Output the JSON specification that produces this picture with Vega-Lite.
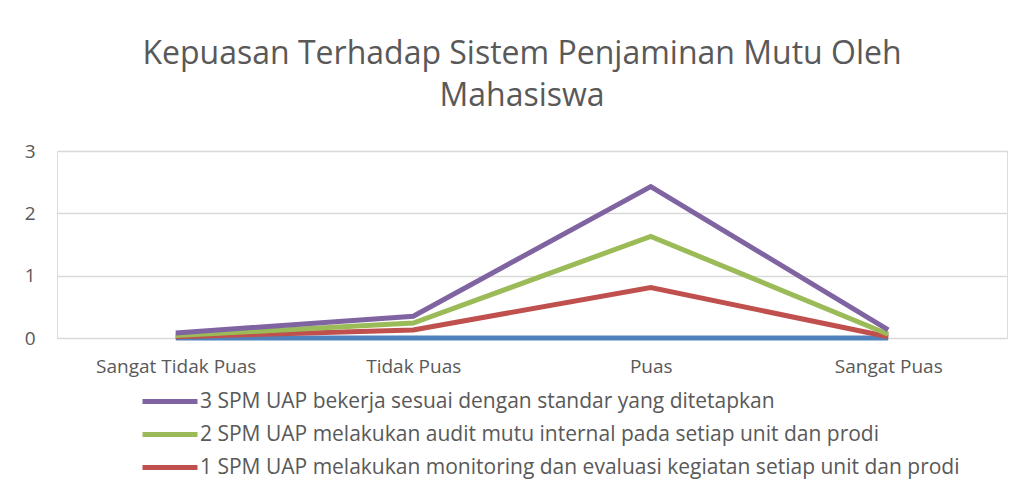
{
  "$schema": "https://vega.github.io/schema/vega-lite/v6.json",
  "width": 950,
  "height": 187,
  "autosize": {"type": "none"},
  "padding": {"left": 57, "top": 151, "right": 23, "bottom": 158},
  "background": "white",
  "title": {
    "text": ["Kepuasan Terhadap Sistem Penjaminan Mutu Oleh", "Mahasiswa"],
    "fontSize": 32,
    "lineHeight": 42,
    "font": "Open Sans",
    "fontWeight": "normal",
    "color": "#595959",
    "anchor": "middle",
    "dx": -10,
    "offset": 29
  },
  "data": {
    "values": [
      {"kategori": "Sangat Tidak Puas", "seri": "0", "nilai": 0},
      {"kategori": "Tidak Puas", "seri": "0", "nilai": 0},
      {"kategori": "Puas", "seri": "0", "nilai": 0},
      {"kategori": "Sangat Puas", "seri": "0", "nilai": 0},
      {"kategori": "Sangat Tidak Puas", "seri": "1 SPM UAP melakukan monitoring dan evaluasi kegiatan setiap unit dan prodi", "nilai": 0.02},
      {"kategori": "Tidak Puas", "seri": "1 SPM UAP melakukan monitoring dan evaluasi kegiatan setiap unit dan prodi", "nilai": 0.13},
      {"kategori": "Puas", "seri": "1 SPM UAP melakukan monitoring dan evaluasi kegiatan setiap unit dan prodi", "nilai": 0.81},
      {"kategori": "Sangat Puas", "seri": "1 SPM UAP melakukan monitoring dan evaluasi kegiatan setiap unit dan prodi", "nilai": 0.02},
      {"kategori": "Sangat Tidak Puas", "seri": "2 SPM UAP melakukan audit mutu internal pada setiap unit dan prodi", "nilai": 0.02},
      {"kategori": "Tidak Puas", "seri": "2 SPM UAP melakukan audit mutu internal pada setiap unit dan prodi", "nilai": 0.11},
      {"kategori": "Puas", "seri": "2 SPM UAP melakukan audit mutu internal pada setiap unit dan prodi", "nilai": 0.82},
      {"kategori": "Sangat Puas", "seri": "2 SPM UAP melakukan audit mutu internal pada setiap unit dan prodi", "nilai": 0.04},
      {"kategori": "Sangat Tidak Puas", "seri": "3 SPM UAP bekerja sesuai dengan standar yang ditetapkan", "nilai": 0.04},
      {"kategori": "Tidak Puas", "seri": "3 SPM UAP bekerja sesuai dengan standar yang ditetapkan", "nilai": 0.11},
      {"kategori": "Puas", "seri": "3 SPM UAP bekerja sesuai dengan standar yang ditetapkan", "nilai": 0.8},
      {"kategori": "Sangat Puas", "seri": "3 SPM UAP bekerja sesuai dengan standar yang ditetapkan", "nilai": 0.07}
    ]
  },
  "encoding": {
    "x": {
      "field": "kategori",
      "type": "nominal",
      "sort": ["Sangat Tidak Puas", "Tidak Puas", "Puas", "Sangat Puas"],
      "scale": {"type": "point", "padding": 0.5},
      "axis": {
        "title": null,
        "labelAngle": 0,
        "domain": false,
        "ticks": false,
        "labelFont": "Open Sans",
        "labelFontSize": 19,
        "labelColor": "#595959",
        "labelPadding": 19
      }
    }
  },
  "layer": [
    {
      "transform": [{"filter": "datum.seri === '0'"}],
      "mark": {"type": "line", "strokeWidth": 5, "color": "#4f81bd"},
      "encoding": {
        "y": {
          "field": "nilai",
          "type": "quantitative",
          "scale": {"domain": [0, 3]},
          "axis": {
            "title": null,
            "values": [0, 1, 2, 3],
            "format": "d",
            "domain": false,
            "ticks": false,
            "gridColor": "#d9d9d9",
            "gridWidth": 1.5,
            "labelFont": "Open Sans",
            "labelFontSize": 19,
            "labelColor": "#595959",
            "labelPadding": 22
          }
        }
      }
    },
    {
      "transform": [{"filter": "datum.seri !== '0'"}],
      "mark": {"type": "line", "strokeWidth": 5},
      "encoding": {
        "y": {"field": "nilai", "type": "quantitative", "stack": "zero"},
        "order": {"field": "seri", "sort": "ascending"},
        "color": {
          "field": "seri",
          "type": "nominal",
          "scale": {
            "domain": [
              "3 SPM UAP bekerja sesuai dengan standar yang ditetapkan",
              "2 SPM UAP melakukan audit mutu internal pada setiap unit dan prodi",
              "1 SPM UAP melakukan monitoring dan evaluasi kegiatan setiap unit dan prodi"
            ],
            "range": ["#8064a2", "#9bbb59", "#c0504d"]
          },
          "legend": {
            "title": null,
            "orient": "none",
            "legendX": 83,
            "legendY": 235,
            "symbolType": "stroke",
            "symbolSize": 3025,
            "symbolStrokeWidth": 5,
            "clipHeight": 31,
            "labelFont": "Open Sans",
            "labelFontSize": 21,
            "labelColor": "#595959",
            "labelLimit": 1000,
            "labelOffset": 0,
            "rowPadding": 2
          }
        }
      }
    }
  ]
}
